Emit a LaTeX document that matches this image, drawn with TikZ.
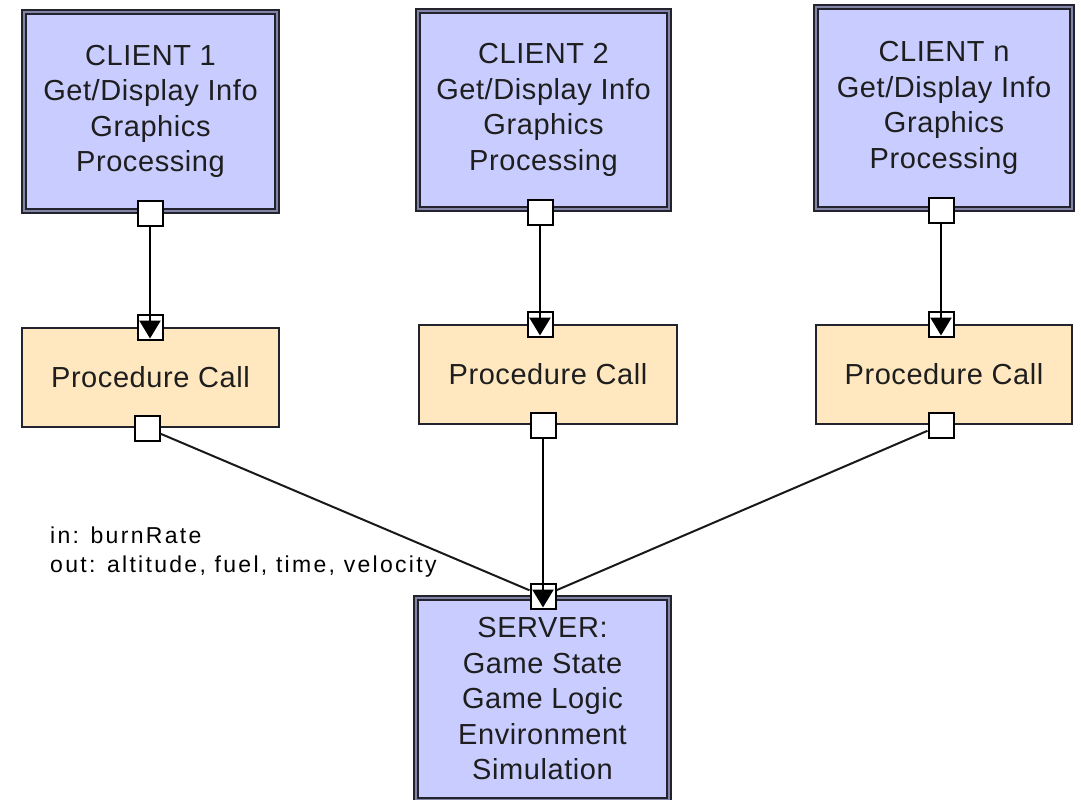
\documentclass[tikz,border=0pt]{standalone}
\usepackage{fontspec}
\setmainfont{Liberation Sans}
\newfontfamily\boxfont[LetterSpace=2]{Liberation Sans}
\newfontfamily\labfont[LetterSpace=10]{Liberation Sans}
\usetikzlibrary{arrows.meta}
\definecolor{lav}{RGB}{200,204,255}
\definecolor{peach}{RGB}{255,232,192}
\definecolor{bdark}{RGB}{35,35,45}
\definecolor{bmid}{RGB}{130,132,168}
\definecolor{txt}{RGB}{30,30,30}
\tikzset{
  dbox/.style={rectangle, fill=lav, draw=bdark, line width=2pt, inner sep=0pt,
    text=txt, align=center, font=\boxfont\fontsize{29}{35.5}\selectfont,
    double=bmid, double distance=2pt},
  pbox/.style={rectangle, fill=peach, draw=bdark, line width=2pt, inner sep=0pt,
    text=txt, align=center, font=\boxfont\fontsize{29}{35}\selectfont},
  port/.style={rectangle, fill=white, draw=black, line width=2pt, minimum size=25pt, inner sep=0pt},
  conn/.style={draw=black, line width=2.5pt},
  diag/.style={draw=black!90, line width=2pt},
  arr/.style={conn, -{Triangle[length=18pt,width=21pt]}, shorten >=2pt},
  lab/.style={align=left, anchor=north west, inner sep=0pt, text=black,
    font=\labfont\fontsize{23}{28.5}\selectfont}
}
\begin{document}
\begin{tikzpicture}[x=1pt,y=-1pt]
\useasboundingbox (0,0) rectangle (1081,800);
\clip (0,0) rectangle (1081,800);
% client boxes (double border: dark-mid-dark)
\node[dbox, minimum width=253pt, minimum height=199pt] (c1) at (150.5,111.5)
  {CLIENT 1\\Get/Display Info\\Graphics\\Processing};
\node[dbox, minimum width=251pt, minimum height=198pt] (c2) at (543.5,110)
  {CLIENT 2\\Get/Display Info\\Graphics\\Processing};
\node[dbox, minimum width=256pt, minimum height=202pt] (c3) at (944,108)
  {CLIENT n\\Get/Display Info\\Graphics\\Processing};
% procedure call boxes
\node[pbox, minimum width=257pt, minimum height=99pt] (p1) at (150.5,377.5) {Procedure Call};
\node[pbox, minimum width=258pt, minimum height=99pt] (p2) at (548,374.5) {Procedure Call};
\node[pbox, minimum width=256pt, minimum height=99pt] (p3) at (944,374.5) {Procedure Call};
% server box
\node[dbox, minimum width=253pt, minimum height=202pt] (srv) at (542.5,699)
  {SERVER:\\Game State\\Game Logic\\Environment\\Simulation};
% ports
\node[port] (c1o) at (150,213) {};
\node[port] (p1i) at (150,327) {};
\node[port] (p1o) at (147,428) {};
\node[port] (c2o) at (540,212) {};
\node[port] (p2i) at (540,324) {};
\node[port] (p2o) at (543,425) {};
\node[port] (c3o) at (941,210) {};
\node[port] (p3i) at (941,324) {};
\node[port] (p3o) at (941,425) {};
\node[port] (sin) at (543,596) {};
% connectors
\draw[arr] (c1o.south) -- (p1i.south);
\draw[arr] (c2o.south) -- (p2i.south);
\draw[arr] (c3o.south) -- (p3i.south);
\draw[arr] (p2o.south) -- (sin.south);
\draw[diag] (p1o) -- (sin);
\draw[diag] (p3o) -- (sin);
% label
\node[lab] (lbl) at (50,527) {in: burnRate\\out: altitude, fuel, time, velocity};
\end{tikzpicture}
\end{document}
